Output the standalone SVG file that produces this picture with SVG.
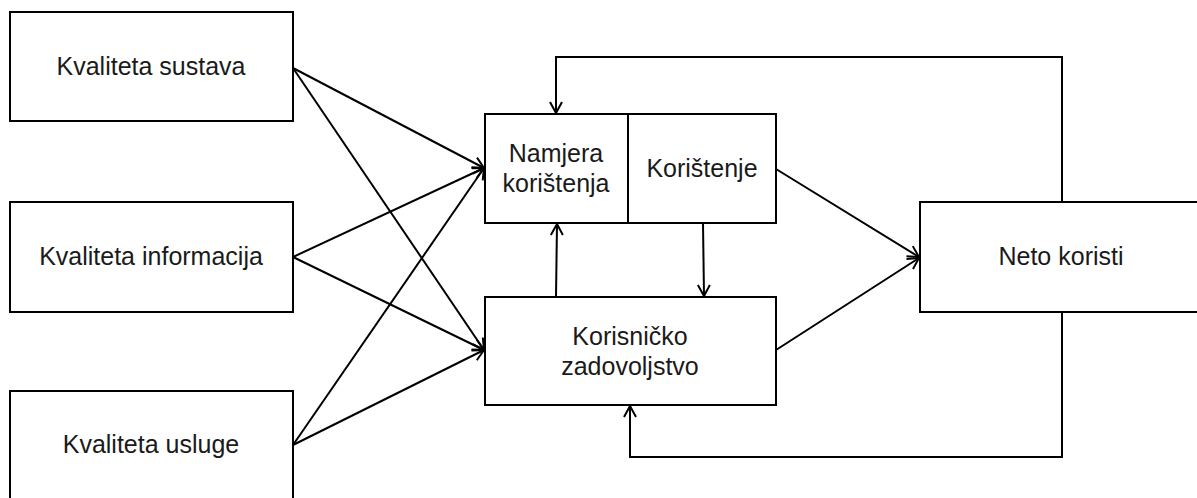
<svg xmlns="http://www.w3.org/2000/svg" width="1197" height="498" viewBox="0 0 1197 498">
<style>
.box{fill:#fff;stroke:#000;stroke-width:2}
.lbl{font-family:"Liberation Sans",Arial,sans-serif;font-size:25px;fill:#1a1a1a;text-anchor:middle}
.con{fill:none;stroke:#000;stroke-width:2}
</style>
<defs>
<marker id="ah" markerUnits="userSpaceOnUse" markerWidth="14" markerHeight="14" viewBox="-12 -7 14 14" refX="0" refY="0" orient="auto">
<path d="M-11,-6 L0,0 L-11,6" fill="none" stroke="#000" stroke-width="2"/>
</marker>
</defs>
<rect width="1197" height="498" fill="#fff"/>
<g id="connectors">
<line class="con" x1="293" y1="68" x2="484" y2="168" marker-end="url(#ah)"/>
<line class="con" x1="293" y1="68" x2="484" y2="350" marker-end="url(#ah)"/>
<line class="con" x1="293" y1="257" x2="484" y2="168" marker-end="url(#ah)"/>
<line class="con" x1="293" y1="257" x2="484" y2="350" marker-end="url(#ah)"/>
<line class="con" x1="293" y1="445" x2="484" y2="168" marker-end="url(#ah)"/>
<line class="con" x1="293" y1="445" x2="484" y2="350" marker-end="url(#ah)"/>
<line class="con" x1="776" y1="169" x2="919" y2="257" marker-end="url(#ah)"/>
<line class="con" x1="776" y1="350" x2="919" y2="258" marker-end="url(#ah)"/>
<line class="con" x1="556" y1="297" x2="557" y2="224" marker-end="url(#ah)"/>
<line class="con" x1="703" y1="223" x2="704" y2="296" marker-end="url(#ah)"/>
<polyline class="con" points="1062,202 1062,57 556,57 556,113" marker-end="url(#ah)"/>
<polyline class="con" points="1062,312 1062,457 630,457 630,406" marker-end="url(#ah)"/>
</g>
<g id="n1"><rect class="box" x="10" y="12" width="283" height="109"/><text class="lbl" x="151" y="75">Kvaliteta sustava</text></g>
<g id="n2"><rect class="box" x="10" y="202" width="283" height="110"/><text class="lbl" x="151" y="265">Kvaliteta informacija</text></g>
<g id="n3"><rect class="box" x="10" y="391" width="283" height="120"/><text class="lbl" x="151" y="453">Kvaliteta usluge</text></g>
<g id="n4"><rect class="box" x="485" y="114" width="291" height="109"/><line class="con" x1="628" y1="114" x2="628" y2="223"/><text class="lbl" x="556" y="162">Namjera</text><text class="lbl" x="556" y="192">korištenja</text><text class="lbl" x="702" y="177">Korištenje</text></g>
<g id="n5"><rect class="box" x="485" y="297" width="291" height="108"/><text class="lbl" x="630" y="345">Korisničko</text><text class="lbl" x="630" y="375">zadovoljstvo</text></g>
<g id="n6"><rect class="box" x="920" y="202" width="290" height="110"/><text class="lbl" x="1061" y="265">Neto koristi</text></g>
</svg>
